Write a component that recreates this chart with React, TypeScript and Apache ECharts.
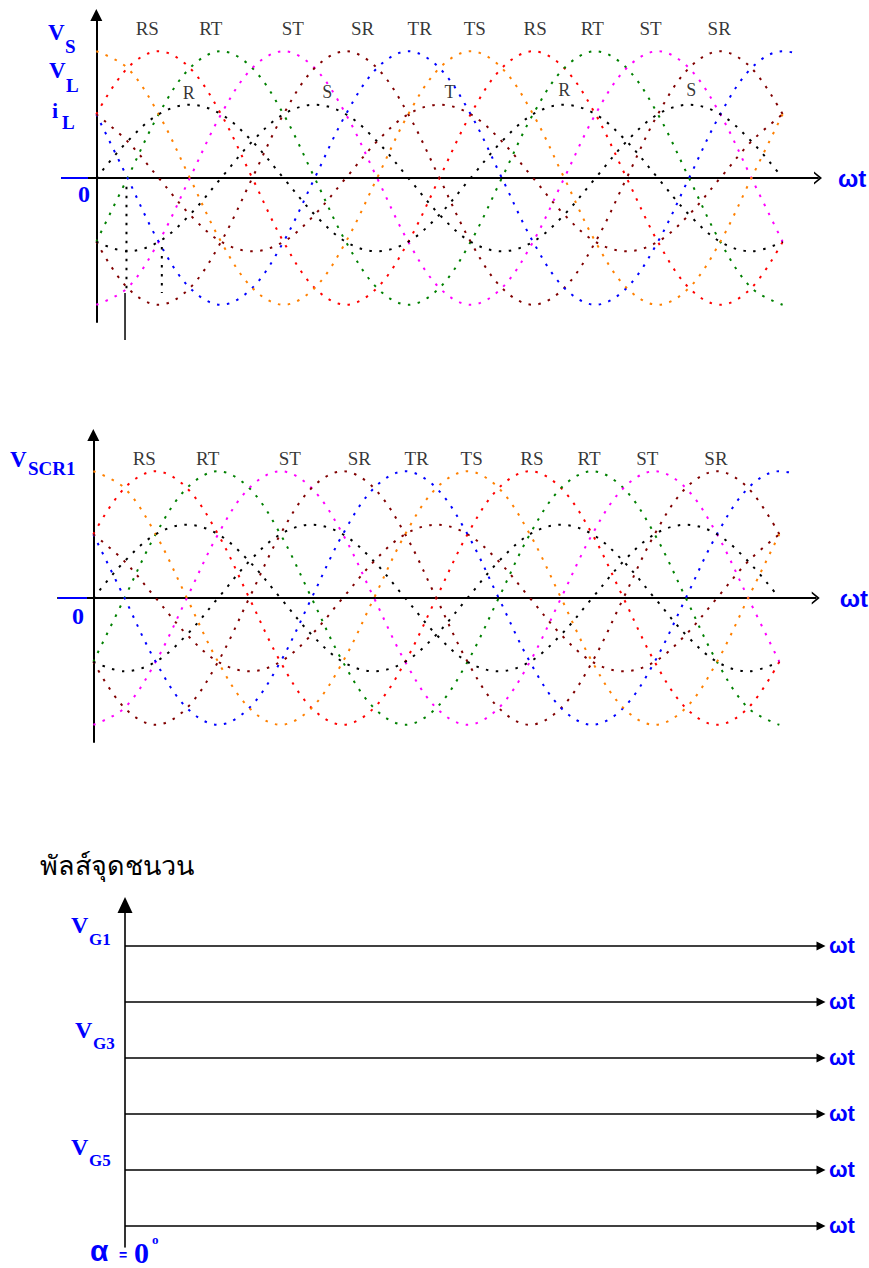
import React, { useEffect, useRef } from "react";
import * as echarts from "echarts";

// Electrical angle ωt (degrees) of each sample point
const angles = [0, 30, 60, 90, 120, 150, 180, 210, 240, 270, 300, 330, 360, 390, 420, 450, 480, 510, 540, 570, 600, 630, 660];

// Line-to-line voltages (per unit of the phase peak)
const vRS = [0.87, 1.5, 1.73, 1.5, 0.87, 0, -0.87, -1.5, -1.73, -1.5, -0.87, 0, 0.87, 1.5, 1.73, 1.5, 0.87, 0, -0.87, -1.5, -1.73, -1.5, -0.87];
const vRT = [-0.87, 0, 0.87, 1.5, 1.73, 1.5, 0.87, 0, -0.87, -1.5, -1.73, -1.5, -0.87, 0, 0.87, 1.5, 1.73, 1.5, 0.87, 0, -0.87, -1.5, -1.73];
const vST = [-1.73, -1.5, -0.87, 0, 0.87, 1.5, 1.73, 1.5, 0.87, 0, -0.87, -1.5, -1.73, -1.5, -0.87, 0, 0.87, 1.5, 1.73, 1.5, 0.87, 0, -0.87];
const vSR = [-0.87, -1.5, -1.73, -1.5, -0.87, 0, 0.87, 1.5, 1.73, 1.5, 0.87, 0, -0.87, -1.5, -1.73, -1.5, -0.87, 0, 0.87, 1.5, 1.73, 1.5, 0.87];
const vTR = [0.87, 0, -0.87, -1.5, -1.73, -1.5, -0.87, 0, 0.87, 1.5, 1.73, 1.5, 0.87, 0, -0.87, -1.5, -1.73, -1.5, -0.87, 0, 0.87, 1.5, 1.73];
const vTS = [1.73, 1.5, 0.87, 0, -0.87, -1.5, -1.73, -1.5, -0.87, 0, 0.87, 1.5, 1.73, 1.5, 0.87, 0, -0.87, -1.5, -1.73, -1.5, -0.87, 0, 0.87];

// Phase voltages
const vR = [0, 0.5, 0.87, 1, 0.87, 0.5, 0, -0.5, -0.87, -1, -0.87, -0.5, 0, 0.5, 0.87, 1, 0.87, 0.5, 0, -0.5, -0.87, -1, -0.87];
const vS = [-0.87, -1, -0.87, -0.5, 0, 0.5, 0.87, 1, 0.87, 0.5, 0, -0.5, -0.87, -1, -0.87, -0.5, 0, 0.5, 0.87, 1, 0.87, 0.5, 0];
const vT = [0.87, 0.5, 0, -0.5, -0.87, -1, -0.87, -0.5, 0, 0.5, 0.87, 1, 0.87, 0.5, 0, -0.5, -0.87, -1, -0.87, -0.5, 0, 0.5, 0.87];

// The TR trace runs a little past the others
const trTail = [[675, 1.7]];

// Peak labels of the line voltages and of the phase voltages
const peakLabels = ["RS", "RT", "ST", "SR", "TR", "TS", "RS", "RT", "ST", "SR"];
const peakLabelAngles = [49, 110, 189, 256, 311, 364, 422, 477, 533, 599];
const phaseLabels = ["R", "S", "T", "R", "S"];
const phaseLabelAngles = [89, 222, 340, 450, 572];
const phaseLabelLevels = [1.16, 1.17, 1.17, 1.2, 1.2];

// Firing-instant guide lines in the top plot
const guideDotted = [
  [[29, -0.12], [29, -1.56]],
  [[63, -0.94], [63, -1.57]],
];
const guideSolid = [[27.6, -1.57], [27.6, -2.21]];

// Gate pulse baselines (six SCRs), top to bottom
const gateLevels = [6, 5, 4, 3, 2, 1];

const BLUE = "#0000ff";
const SERIF = '"Liberation Serif", "Times New Roman", serif';
const SANS = '"Liberation Sans", Arial, sans-serif';
const DOTS = [2.5, 7.5];
const CHEVRON = "path://M0,8 L6.5,0 L13,8 L11,8 L6.5,2.6 L2,8 Z";

const curves = [
  { values: vRS, color: "#ff0000" },
  { values: vRT, color: "#008000" },
  { values: vST, color: "#ff00ff" },
  { values: vSR, color: "#800000" },
  { values: vTR, color: "#0000ff", tail: trTail },
  { values: vTS, color: "#ff8000" },
  { values: vR, color: "#000000" },
  { values: vS, color: "#000000" },
  { values: vT, color: "#800000" },
];

const waveGrids = [
  { left: 62, right: 51, top: 15, bottom: 946, xMin: -33, xMax: 694, labelY: 2.04, nameGap: 20 },
  { left: 58, right: 53, top: 435, bottom: 526, xMin: -34, xMax: 695, labelY: 1.91, nameGap: 24 },
];

function txt(text: string, x: number, y: number, size: number, color = BLUE, family = SERIF, weight = "bold") {
  return {
    type: "text",
    x,
    y,
    z: 50,
    silent: true,
    style: {
      text,
      fill: color,
      font: `${weight} ${size}px ${family}`,
      align: "left",
      verticalAlign: "middle",
      textAlign: "left",
      textVerticalAlign: "middle",
    },
  };
}

function hline(x1: number, x2: number, y: number) {
  return {
    type: "line",
    z: 60,
    silent: true,
    shape: { x1, y1: y, x2, y2: y },
    style: { stroke: BLUE, lineWidth: 2 },
  };
}

export default function App() {
  const ref = useRef<HTMLDivElement>(null);

  useEffect(() => {
    document.body.style.margin = "0";
    const chart = echarts.init(ref.current!, null, { renderer: "svg" });

    const grids: any[] = waveGrids.map((g) => ({ left: g.left, right: g.right, top: g.top, bottom: g.bottom }));
    grids.push({ left: 125, right: 48, top: 905, bottom: 21 });

    const xAxes: any[] = waveGrids.map((g, i) => ({
      gridIndex: i,
      type: "value",
      min: g.xMin,
      max: g.xMax,
      axisLine: {
        show: true,
        onZero: true,
        symbol: ["none", CHEVRON],
        symbolSize: [13, 8],
        lineStyle: { color: "#000", width: 2 },
      },
      axisTick: { show: false },
      axisLabel: { show: false },
      splitLine: { show: false },
      name: "ωt",
      nameLocation: "end",
      nameGap: g.nameGap,
      nameTextStyle: { color: BLUE, fontSize: 24, fontWeight: "bold", fontFamily: SANS },
    }));
    xAxes.push({ gridIndex: 2, type: "value", min: 0, max: 1, show: false });

    const yAxes: any[] = waveGrids.map((_, i) => ({
      gridIndex: i,
      type: "value",
      min: -1.9645,
      max: 2.224,
      axisLine: {
        show: true,
        onZero: true,
        symbol: ["none", "triangle"],
        symbolSize: [12, 12],
        lineStyle: { color: "#000", width: 2 },
      },
      axisTick: { show: false },
      axisLabel: { show: false },
      splitLine: { show: false },
    }));
    yAxes.push({
      gridIndex: 2,
      type: "value",
      min: 0.625,
      max: 6.732,
      axisLine: {
        show: true,
        onZero: true,
        symbol: ["none", "triangle"],
        symbolSize: [15, 16],
        lineStyle: { color: "#000", width: 1.6 },
      },
      axisTick: { show: false },
      axisLabel: { show: false },
      splitLine: { show: false },
    });

    const series: any[] = [];
    waveGrids.forEach((g, gi) => {
      curves.forEach((c) => {
        const pts: number[][] = angles.map((a, i) => [a, c.values[i]]);
        (c.tail || []).forEach((p) => pts.push(p));
        series.push({
          type: "line",
          xAxisIndex: gi,
          yAxisIndex: gi,
          data: pts,
          smooth: 0.35,
          symbol: "none",
          silent: true,
          z: 3,
          lineStyle: { color: c.color, width: 2, type: DOTS },
        });
      });
      series.push({
        type: "scatter",
        xAxisIndex: gi,
        yAxisIndex: gi,
        symbolSize: 1,
        silent: true,
        itemStyle: { color: "rgba(0,0,0,0)" },
        label: { show: true, position: "inside", formatter: "{b}", color: "#000", fontSize: 19, fontFamily: SERIF },
        data: peakLabels.map((t, i) => ({ name: t, value: [peakLabelAngles[i], g.labelY] })),
      });
    });

    series.push({
      type: "scatter",
      xAxisIndex: 0,
      yAxisIndex: 0,
      symbolSize: 1,
      silent: true,
      itemStyle: { color: "rgba(0,0,0,0)" },
      label: { show: true, position: "inside", formatter: "{b}", color: "#000", fontSize: 18, fontFamily: SERIF },
      data: phaseLabels.map((t, i) => ({ name: t, value: [phaseLabelAngles[i], phaseLabelLevels[i]] })),
    });

    guideDotted.forEach((pts) =>
      series.push({
        type: "line",
        xAxisIndex: 0,
        yAxisIndex: 0,
        data: pts,
        symbol: "none",
        silent: true,
        clip: false,
        lineStyle: { color: "#000", width: 2, type: [2.5, 6.5] },
      })
    );
    series.push({
      type: "line",
      xAxisIndex: 0,
      yAxisIndex: 0,
      data: guideSolid,
      symbol: "none",
      silent: true,
      clip: false,
      lineStyle: { color: "#000", width: 1.5 },
    });

    series.push({
      type: "line",
      xAxisIndex: 2,
      yAxisIndex: 2,
      data: gateLevels.map((v) => [0, v]),
      symbol: "none",
      silent: true,
      lineStyle: { opacity: 0 },
      markLine: {
        silent: true,
        symbol: ["none", "triangle"],
        symbolSize: 9,
        lineStyle: { color: "#000", width: 1.5, type: "solid" },
        label: {
          show: true,
          position: "end",
          formatter: "ωt",
          distance: 8,
          color: BLUE,
          fontSize: 22,
          fontWeight: "bold",
          fontFamily: SANS,
        },
        emphasis: { disabled: true },
        data: gateLevels.map((v) => ({ yAxis: v })),
      },
    });

    const graphic: any[] = [
      hline(61, 88, 178),
      txt("V", 48, 32.5, 23),
      txt("S", 65, 46.5, 19),
      txt("V", 49, 70.5, 23),
      txt("L", 66, 85, 19),
      txt("i", 52, 110, 22),
      txt("L", 62, 122, 19),
      txt("0", 78, 193.5, 24),

      hline(58, 87, 598),
      txt("V", 10, 459.5, 23),
      txt("SCR1", 28, 468.5, 19),
      txt("0", 72, 615.5, 24),

      txt("พัลส์จุดชนวน", 40, 866, 27, "#000", SERIF, "normal"),
      txt("V", 71, 925, 24),
      txt("G1", 89, 939, 17),
      txt("V", 75, 1030, 24),
      txt("G3", 93, 1043.5, 17),
      txt("V", 71, 1146.5, 24),
      txt("G5", 89, 1160.5, 17),
      txt("α", 90, 1250.5, 30, BLUE, SANS),
      txt("=", 119, 1255, 14, BLUE, SANS),
      txt("0", 134, 1252.5, 30),
      txt("o", 152, 1239, 13),
    ];

    chart.setOption({
      animation: false,
      backgroundColor: "#ffffff",
      textStyle: { fontFamily: SERIF },
      grid: grids,
      xAxis: xAxes,
      yAxis: yAxes,
      series,
      graphic,
    });

    return () => chart.dispose();
  }, []);

  return (
    <div
      ref={ref}
      style={{ position: "absolute", left: 0, top: 0, width: 869, height: 1268, background: "#fff" }}
    />
  );
}
